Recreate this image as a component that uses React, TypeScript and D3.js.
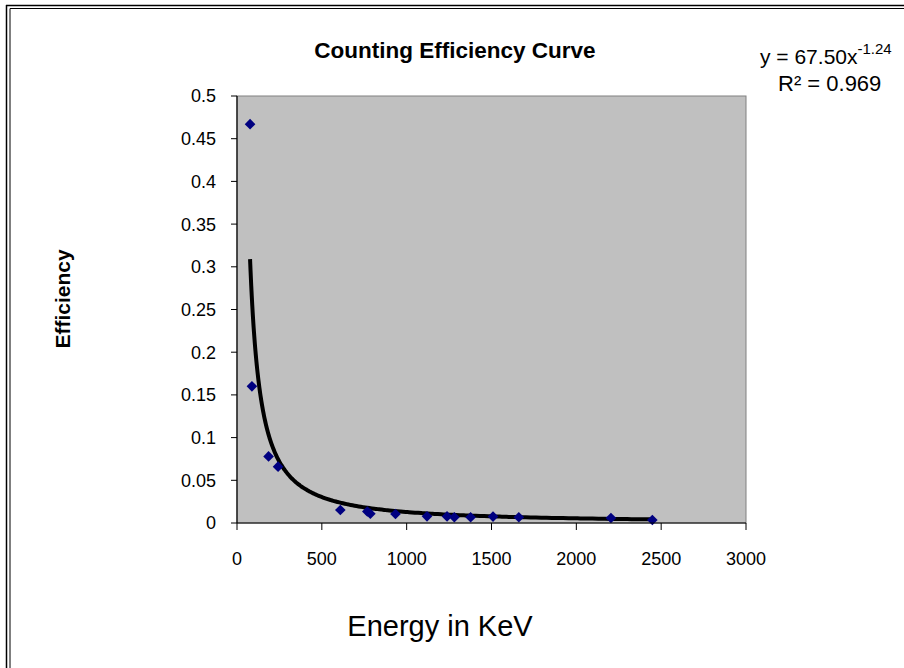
import React from "react";
import * as d3 from "d3";

const energies = [77, 88, 186, 242, 609, 768, 786, 934, 1120, 1238, 1281, 1377, 1509, 1661, 2204, 2448];
const efficiencies = [0.467, 0.16, 0.078, 0.066, 0.0152, 0.0135, 0.0108, 0.0105, 0.0078, 0.0077, 0.0068, 0.0068, 0.0075, 0.0068, 0.0058, 0.0035];
const xTicks = [0, 500, 1000, 1500, 2000, 2500, 3000];
const yTicks = [0, 0.05, 0.1, 0.15, 0.2, 0.25, 0.3, 0.35, 0.4, 0.45, 0.5];
const fitA = 67.5;
const fitB = -1.24;

const W = 904;
const H = 668;
const font = "'Liberation Sans', Arial, sans-serif";

export default function App() {
  const x = d3.scaleLinear().domain([0, 3000]).range([237, 746]);
  const y = d3.scaleLinear().domain([0, 0.5]).range([523, 96]);
  const xMin = d3.min(energies) as number;
  const xMax = d3.max(energies) as number;
  const curveXs = d3.range(0, 201).map((i) => xMin * Math.pow(xMax / xMin, i / 200));
  const line = d3
    .line<number>()
    .x((d) => x(d))
    .y((d) => y(fitA * Math.pow(d, fitB)))
    .curve(d3.curveMonotoneX);
  const diamond = d3.symbol().type(d3.symbolDiamond2).size(72)();

  return (
    <svg
      width={W}
      height={H}
      style={{ position: "absolute", left: 0, top: 0, display: "block", background: "#fff" }}
    >
      <rect x={0} y={0} width={W} height={H} fill="#fff" />
      {/* outer double frame */}
      <line x1={6} x2={W} y1={5.5} y2={5.5} stroke="#000" strokeWidth={1.5} />
      <line x1={6.5} x2={6.5} y1={5} y2={H} stroke="#000" strokeWidth={1.5} />
      <line x1={10} x2={W} y1={8.5} y2={8.5} stroke="#000" strokeWidth={1} />
      <line x1={10} x2={10} y1={8.5} y2={H} stroke="#000" strokeWidth={1} />

      {/* plot area */}
      <rect x={237} y={96} width={509} height={427} fill="#c0c0c0" stroke="#808080" strokeWidth={1} />

      {/* fit curve */}
      <path d={line(curveXs) || ""} fill="none" stroke="#000" strokeWidth={4} />

      {/* points */}
      {energies.map((e, i) => (
        <path key={i} d={diamond || ""} transform={`translate(${x(e)},${y(efficiencies[i])})`} fill="#000080" />
      ))}

      {/* axes */}
      <line x1={237} x2={237} y1={96} y2={523} stroke="#000" strokeWidth={1.2} />
      <line x1={237} x2={746} y1={523} y2={523} stroke="#000" strokeWidth={1.2} />
      {yTicks.map((t) => (
        <g key={"y" + t}>
          <line x1={231} x2={237} y1={y(t)} y2={y(t)} stroke="#000" />
          <text x={216} y={y(t)} dy="0.36em" textAnchor="end" fontFamily={font} fontSize={18} fill="#000">
            {String(t)}
          </text>
        </g>
      ))}
      {xTicks.map((t) => (
        <g key={"x" + t}>
          <line x1={x(t)} x2={x(t)} y1={523} y2={530} stroke="#000" />
          <text x={x(t)} y={565} textAnchor="middle" fontFamily={font} fontSize={18} fill="#000">
            {String(t)}
          </text>
        </g>
      ))}

      {/* titles */}
      <text x={455} y={58} textAnchor="middle" fontFamily={font} fontSize={22.5} fontWeight="bold" fill="#000">
        Counting Efficiency Curve
      </text>
      <text
        transform={`translate(70,299) rotate(-90)`}
        textAnchor="middle"
        fontFamily={font}
        fontSize={21}
        fontWeight="bold"
        fill="#000"
      >
        Efficiency
      </text>
      <text x={440} y={636} textAnchor="middle" fontFamily={font} fontSize={29} fill="#000">
        Energy in KeV
      </text>

      {/* equation */}
      <text x={760} y={64} fontFamily={font} fontSize={21} fill="#000">
        y = 67.50x
        <tspan dy={-10} fontSize={15}>-1.24</tspan>
      </text>
      <text x={778} y={91} fontFamily={font} fontSize={22} fill="#000">
        R² = 0.969
      </text>
    </svg>
  );
}
